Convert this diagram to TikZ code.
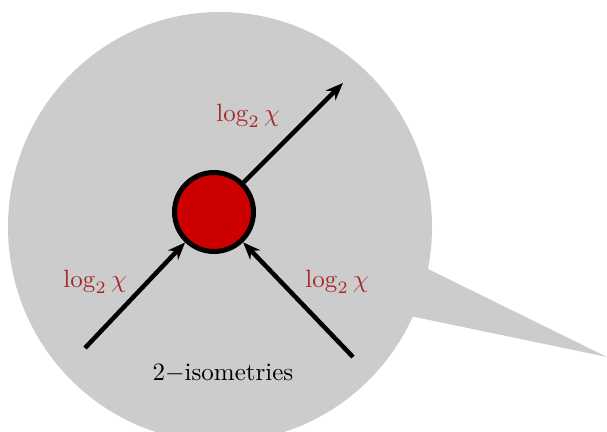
\documentclass[tikz,border=0pt]{standalone}
\usetikzlibrary{arrows.meta}
\definecolor{bubble}{RGB}{204,204,204}
\definecolor{blobred}{RGB}{204,0,0}
\definecolor{labred}{RGB}{165,40,40}
\begin{document}
\begin{tikzpicture}[x=0.4pt,y=-0.4pt,
  conn/.style={line width=1.8pt,-{Stealth[length=7pt,width=5.5pt]}},
  lab/.style={text=labred,font=\normalsize},
  blob/.style={circle,draw=black,line width=2pt,fill=blobred,minimum size=31.6pt,inner sep=0pt}]
\useasboundingbox (0,0) rectangle (607,432);
\fill[bubble] (220,227) ellipse[x radius=212,y radius=215];
\fill[bubble] (426,268) -- (607,357) -- (410,316) -- cycle;
\node[blob] (c) at (214,212) {};
\coordinate (l) at (85,348);
\coordinate (r) at (353,357);
\coordinate (t) at (343,83);
\draw[conn] (l) -- (c);
\draw[conn] (r) -- (c);
\draw[conn] (c) -- (t);
\node[lab] (lt) at (248,116) {$\log_2\chi$};
\node[lab] (ll) at (95,282) {$\log_2\chi$};
\node[lab] (lr) at (337,282) {$\log_2\chi$};
\node (iso) at (223,373) {$2-$isometries};
\end{tikzpicture}
\end{document}
